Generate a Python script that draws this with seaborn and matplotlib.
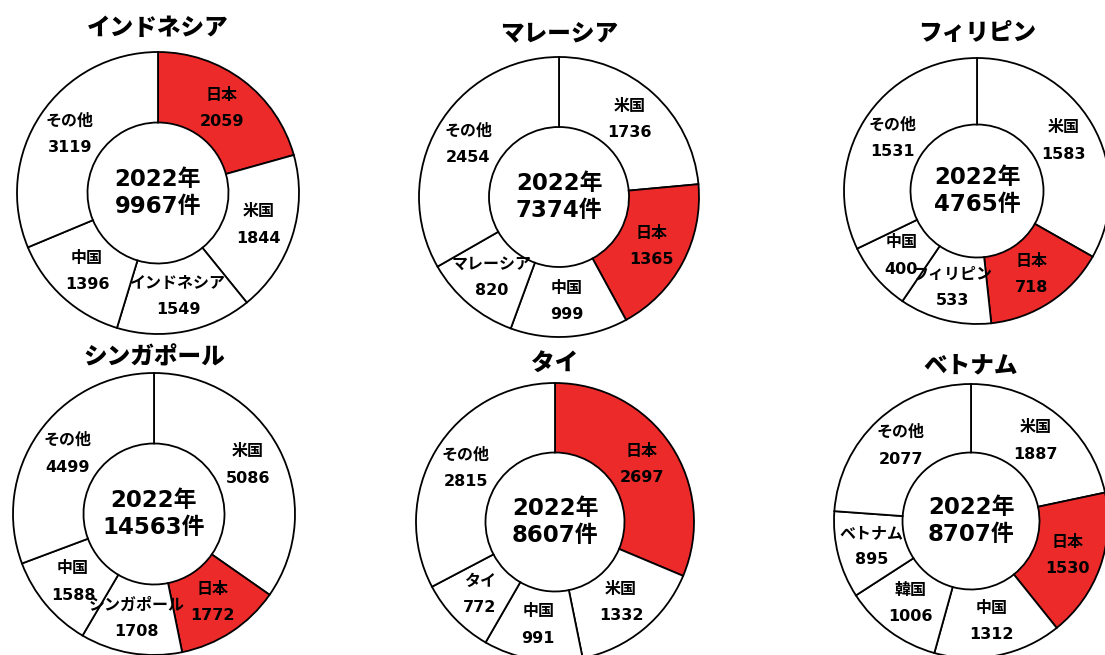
import matplotlib
matplotlib.use("Agg")
import matplotlib.pyplot as plt
import numpy as np
import seaborn as sns

sns.set_theme(style="white")
plt.rcParams["font.family"] = ["DejaVu Sans", "Noto Sans CJK JP"]

# 2022 filings by applicant origin, listed clockwise from 12 o'clock
indonesia_labels = ["日本", "米国", "インドネシア", "中国", "その他"]
indonesia_values = [2059, 1844, 1549, 1396, 3119]

malaysia_labels = ["米国", "日本", "中国", "マレーシア", "その他"]
malaysia_values = [1736, 1365, 999, 820, 2454]

philippines_labels = ["米国", "日本", "フィリピン", "中国", "その他"]
philippines_values = [1583, 718, 533, 400, 1531]

singapore_labels = ["米国", "日本", "シンガポール", "中国", "その他"]
singapore_values = [5086, 1772, 1708, 1588, 4499]

thailand_labels = ["日本", "米国", "中国", "タイ", "その他"]
thailand_values = [2697, 1332, 991, 772, 2815]

vietnam_labels = ["米国", "日本", "中国", "韓国", "ベトナム", "その他"]
vietnam_values = [1887, 1530, 1312, 1006, 895, 2077]

titles = ["インドネシア", "マレーシア", "フィリピン", "シンガポール", "タイ", "ベトナム"]
totals = ["9967", "7374", "4765", "14563", "8607", "8707"]
year = "2022"

series = [
    (indonesia_labels, indonesia_values),
    (malaysia_labels, malaysia_values),
    (philippines_labels, philippines_values),
    (singapore_labels, singapore_values),
    (thailand_labels, thailand_values),
    (vietnam_labels, vietnam_values),
]

# layout in figure pixels (x, y from top, radius, title y from top)
W, H = 1105, 655
layout = [
    (158, 193, 141, 28),
    (559, 197, 140, 33),
    (977, 191, 133, 33),
    (154, 514, 141, 357),
    (555, 522, 139, 363),
    (971, 521, 137, 365),
]

HIGHLIGHT = "#ed2a2a"

fig = plt.figure(figsize=(W / 100, H / 100), dpi=100)
ax = fig.add_axes([0, 0, 1, 1])

for (labels, values), (cx, cy, r, ty), title, total in zip(series, layout, titles, totals):
    y = H - cy
    colors = [HIGHLIGHT if lab == "日本" else "white" for lab in labels]
    wedges, _ = ax.pie(
        values,
        center=(cx, y),
        radius=r,
        startangle=90,
        counterclock=False,
        colors=colors,
        wedgeprops=dict(width=0.5 * r, edgecolor="black", linewidth=1.3),
    )
    for w, lab, val in zip(wedges, labels, values):
        mid = np.deg2rad((w.theta1 + w.theta2) / 2)
        lx = cx + 0.75 * r * np.cos(mid)
        ly = y + 0.75 * r * np.sin(mid)
        ax.text(lx, ly, f"{lab}\n{val}", ha="center", va="center",
                fontsize=11.5, fontweight="bold", linespacing=1.95, color="black")
    ax.text(cx, y, f"{year}年\n{total}件", ha="center", va="center",
            fontsize=16.5, fontweight="bold", linespacing=1.2, color="black")
    ax.text(cx, H - ty, title, ha="center", va="center",
            fontsize=17, fontweight="heavy", color="black")

ax.set_xlim(0, W)
ax.set_ylim(0, H)
ax.set_aspect("equal")
ax.axis("off")

fig.savefig("out.png", dpi=100, facecolor="white")
